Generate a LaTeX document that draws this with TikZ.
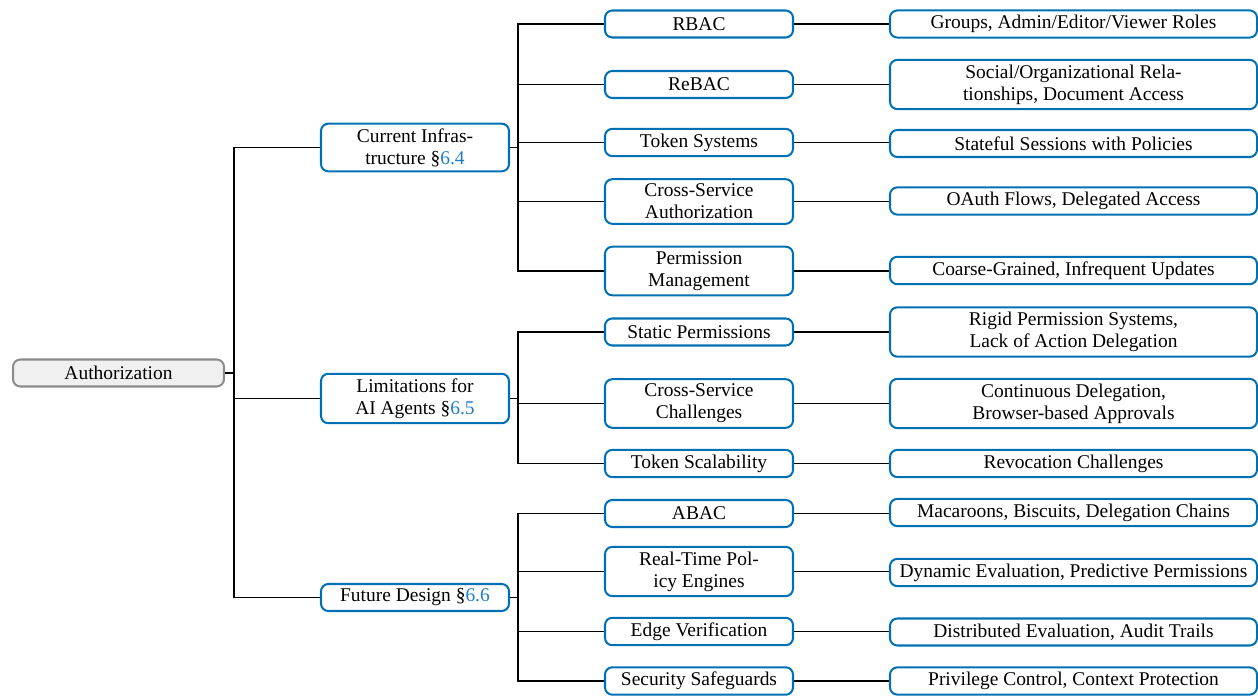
\documentclass[tikz,border=0pt]{standalone}
\usepackage{fontspec}
\setmainfont{Liberation Serif}
\definecolor{boxblue}{RGB}{0,112,180}
\definecolor{secblue}{RGB}{30,125,195}
\definecolor{rootfill}{RGB}{240,240,240}
\definecolor{rootline}{RGB}{140,140,140}
\newcommand{\secnum}[1]{\S\textcolor{secblue}{#1}}

\begin{document}
\begin{tikzpicture}
            [x=0.545pt, y=-0.545pt, semithick, font=\fontsize{10.6}{12}\selectfont,
             rootbox/.style={draw=rootline, fill=rootfill, line width=1.1pt, rounded corners=4pt,
                             minimum width=211*0.545pt, minimum height=27*0.545pt, inner sep=2pt, align=center},
             catbox/.style={draw=boxblue, line width=1.1pt, rounded corners=4pt,
                            minimum width=188*0.545pt, minimum height=27*0.545pt, inner xsep=2pt, inner ysep=2.6pt, align=center},
             leafbox/.style={catbox, minimum width=367*0.545pt}]
            \useasboundingbox (0, 0) rectangle (1258, 696);

            % root and categories
            \node[rootbox] (auth) at (118.5, 373) {Authorization};
            \node[catbox] (cur) at (415, 147.5) {Current Infras-\\tructure \secnum{6.4}};
            \node[catbox] (lim) at (415, 398.5) {Limitations for\\AI Agents \secnum{6.5}};
            \node[catbox] (fut) at (415, 597.5) {Future Design \secnum{6.6}};

            % current infrastructure
            \node[catbox] (rbac) at (699, 24) {RBAC};
            \node[catbox] (rebac) at (699, 84.5) {ReBAC};
            \node[catbox] (token) at (699, 142.5) {Token Systems};
            \node[catbox] (cross) at (699, 201.5) {Cross-Service\\Authorization};
            \node[catbox] (perm) at (699, 271) {Permission\\Management};
            \node[leafbox] (rbacl) at (1073.5, 24) {Groups, Admin/Editor/Viewer Roles};
            \node[leafbox] (rebacl) at (1073.5, 84.5) {Social/Organizational Rela-\\tionships, Document Access};
            \node[leafbox] (tokenl) at (1073.5, 143.5) {Stateful Sessions with Policies};
            \node[leafbox] (crossl) at (1073.5, 201) {OAuth Flows, Delegated Access};
            \node[leafbox] (perml) at (1073.5, 270.5) {Coarse-Grained, Infrequent Updates};

            % limitations
            \node[catbox] (static) at (699, 332) {Static Permissions};
            \node[catbox] (crossch) at (699, 403.5) {Cross-Service\\Challenges};
            \node[catbox] (scal) at (699, 463.5) {Token Scalability};
            \node[leafbox] (staticl) at (1073.5, 332) {Rigid Permission Systems,\\Lack of Action Delegation};
            \node[leafbox] (crosschl) at (1073.5, 403.5) {Continuous Delegation,\\Browser-based Approvals};
            \node[leafbox] (scall) at (1073.5, 463.5) {Revocation Challenges};

            % future design
            \node[catbox] (abac) at (699, 513.5) {ABAC};
            \node[catbox] (rtpe) at (699, 571.5) {Real-Time Pol-\\icy Engines};
            \node[catbox] (edge) at (699, 631.5) {Edge Verification};
            \node[catbox] (safe) at (699, 681) {Security Safeguards};
            \node[leafbox] (abacl) at (1073.5, 512.5) {Macaroons, Biscuits, Delegation Chains};
            \node[leafbox] (rtpel) at (1073.5, 572.5) {Dynamic Evaluation, Predictive Permissions};
            \node[leafbox] (edgel) at (1073.5, 632) {Distributed Evaluation, Audit Trails};
            \node[leafbox] (safel) at (1073.5, 681) {Privilege Control, Context Protection};

            \foreach \c in {cur, lim, fut}
                \draw (auth.east) -- ++(9, 0) |- (\c.west);
            \foreach \c in {rbac, rebac, token, cross, perm}
                \draw (cur.east) -- ++(8, 0) |- (\c.west);
            \foreach \c in {static, crossch, scal}
                \draw (lim.east) -- ++(8, 0) |- (\c.west);
            \foreach \c in {abac, rtpe, edge, safe}
                \draw (fut.east) -- ++(8, 0) |- (\c.west);
            \foreach \c in {rbac, rebac, token, cross, perm, static, crossch, scal, abac, rtpe, edge, safe}
                \draw (\c.east) -- (\c.east -| \c l.west);
        \end{tikzpicture}
\end{document}
